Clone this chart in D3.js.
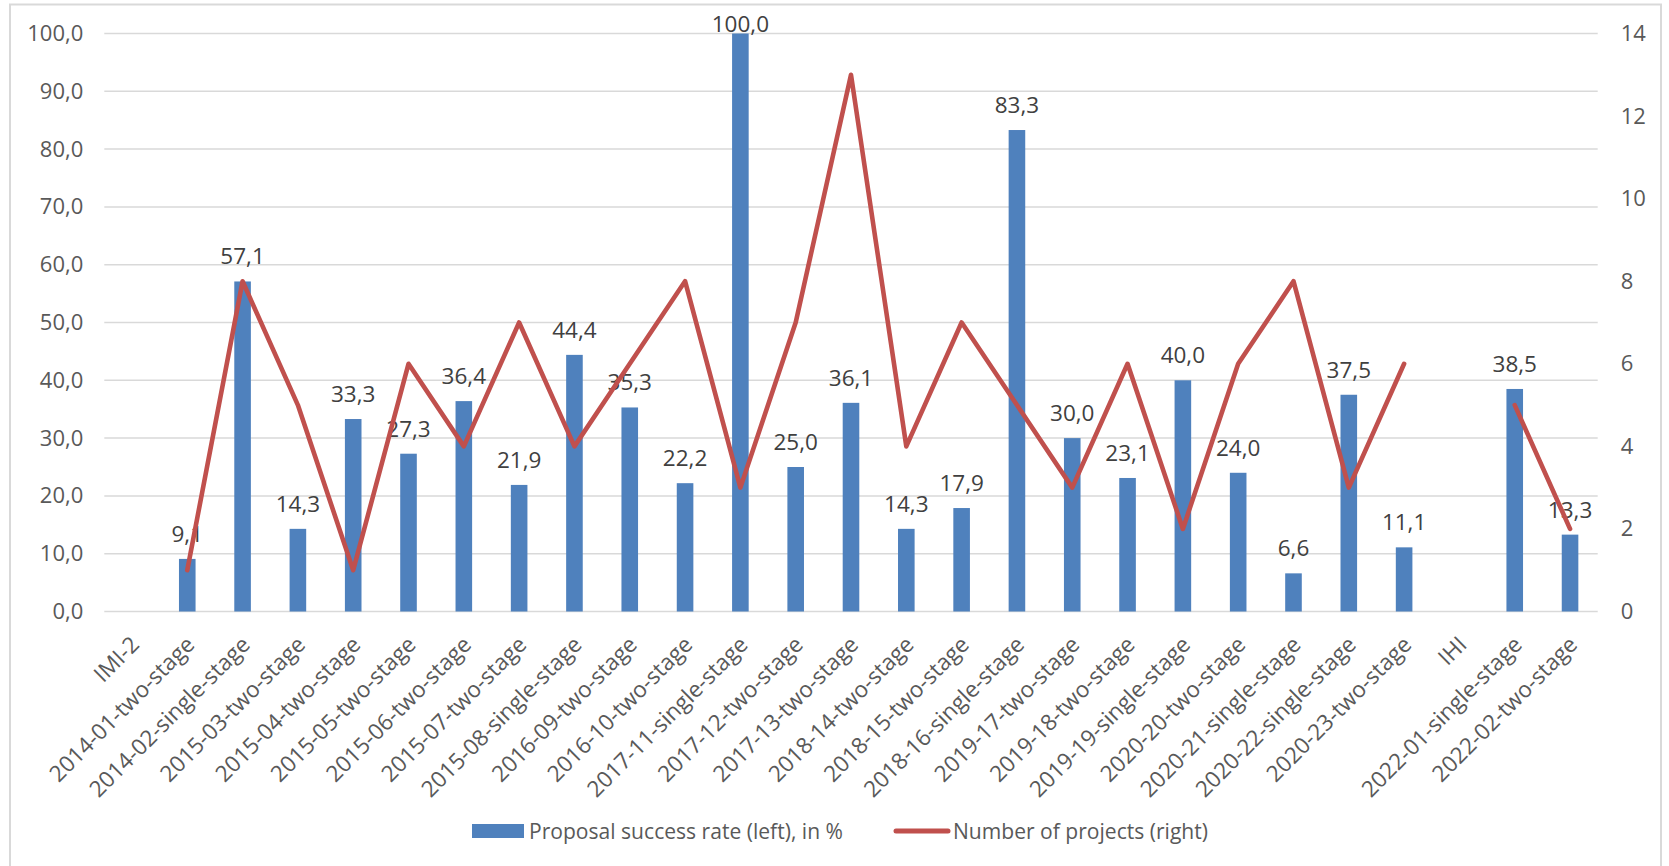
<!DOCTYPE html>
<html>
<head>
<meta charset="utf-8">
<script src="https://cdn.jsdelivr.net/npm/d3@7"></script>
<style>
  html, body { margin: 0; padding: 0; background: #ffffff; }
  svg { display: block; font-family: "Open Sans", "Noto Sans", sans-serif; }
</style>
</head>
<body>
<svg id="chart" width="1669" height="866"></svg>
<script>
// Calls, in order (null = programme header, no bar / no point)
const categories = [
  "IMI-2", "2014-01-two-stage", "2014-02-single-stage", "2015-03-two-stage",
  "2015-04-two-stage", "2015-05-two-stage", "2015-06-two-stage", "2015-07-two-stage",
  "2015-08-single-stage", "2016-09-two-stage", "2016-10-two-stage", "2017-11-single-stage",
  "2017-12-two-stage", "2017-13-two-stage", "2018-14-two-stage", "2018-15-two-stage",
  "2018-16-single-stage", "2019-17-two-stage", "2019-18-two-stage", "2019-19-single-stage",
  "2020-20-two-stage", "2020-21-single-stage", "2020-22-single-stage", "2020-23-two-stage",
  "IHI", "2022-01-single-stage", "2022-02-two-stage"
];

// Proposal success rate, in %
const successRate = [
  null, 9.1, 57.1, 14.3, 33.3, 27.3, 36.4, 21.9, 44.4, 35.3, 22.2, 100.0, 25.0, 36.1,
  14.3, 17.9, 83.3, 30.0, 23.1, 40.0, 24.0, 6.6, 37.5, 11.1, null, 38.5, 13.3
];

// Number of projects funded
const projectCount = [
  null, 1, 8, 5, 1, 6, 4, 7, 4, 6, 8, 3, 7, 13, 4, 7, 5, 3, 6, 2, 6, 8, 3, 6, null, 5, 2
];

const leftTicks = [0, 10, 20, 30, 40, 50, 60, 70, 80, 90, 100];
const rightTicks = [0, 2, 4, 6, 8, 10, 12, 14];

const seriesNames = ["Proposal success rate (left), in %", "Number of projects (right)"];

const BAR_COLOR = "#4F81BD";
const LINE_COLOR = "#C0504D";
const GRID_COLOR = "#d9d9d9";
const AXIS_TEXT = "#595959";
const LABEL_TEXT = "#404040";

const svg = d3.select("#chart");

// Chart frame
svg.append("rect")
  .attr("x", 10).attr("y", 4.5)
  .attr("width", 1651).attr("height", 880)
  .attr("fill", "#ffffff")
  .attr("stroke", GRID_COLOR)
  .attr("stroke-width", 2);

const plot = { left: 104.3, right: 1597.7, top: 33.5, bottom: 611.5 };

const x = d3.scaleBand()
  .domain(categories)
  .range([plot.left, plot.right])
  .paddingInner(0.7)
  .paddingOuter(0.35);

const yLeft = d3.scaleLinear().domain([0, 100]).range([plot.bottom, plot.top]);
const yRight = d3.scaleLinear().domain([0, 14]).range([plot.bottom, plot.top]);

const fmt = d => d.toFixed(1).replace(".", ",");

// Horizontal gridlines
svg.append("g")
  .selectAll("line")
  .data(leftTicks)
  .join("line")
  .attr("x1", plot.left).attr("x2", plot.right)
  .attr("y1", d => yLeft(d)).attr("y2", d => yLeft(d))
  .attr("stroke", GRID_COLOR)
  .attr("stroke-width", 1.5);

// Left axis
const leftAxis = svg.append("g")
  .attr("transform", `translate(${plot.left},0)`)
  .call(d3.axisLeft(yLeft).tickValues(leftTicks).tickFormat(fmt).tickSize(0).tickPadding(21));
leftAxis.select(".domain").remove();
leftAxis.selectAll("text")
  .attr("fill", AXIS_TEXT)
  .style("font-size", "22px")
  .style("font-family", "'Open Sans', sans-serif");

// Right axis
const rightAxis = svg.append("g")
  .attr("transform", `translate(${plot.right},0)`)
  .call(d3.axisRight(yRight).tickValues(rightTicks).tickFormat(d3.format("d")).tickSize(0).tickPadding(23));
rightAxis.select(".domain").remove();
rightAxis.selectAll("text")
  .attr("fill", AXIS_TEXT)
  .style("font-size", "22px")
  .style("font-family", "'Open Sans', sans-serif");

// Category labels, rotated 45 degrees
const xAxis = svg.append("g")
  .attr("transform", `translate(0,${plot.bottom})`)
  .call(d3.axisBottom(x).tickSize(0).tickPadding(0));
xAxis.select(".domain").remove();
xAxis.selectAll(".tick text")
  .attr("fill", AXIS_TEXT)
  .style("font-size", "22.5px")
  .style("font-family", "'Open Sans', sans-serif")
  .attr("text-anchor", "end")
  .attr("x", 0).attr("y", 0).attr("dy", "0.72em")
  .attr("transform", `translate(${x.bandwidth() / 2 - 11},23) rotate(-45)`);

// Bars
const barData = categories.map((c, i) => ({ c, v: successRate[i] })).filter(d => d.v !== null);

svg.append("g")
  .selectAll("rect")
  .data(barData)
  .join("rect")
  .attr("x", d => x(d.c))
  .attr("width", x.bandwidth())
  .attr("y", d => yLeft(d.v))
  .attr("height", d => yLeft(0) - yLeft(d.v))
  .attr("fill", BAR_COLOR);

// Bar value labels
svg.append("g")
  .selectAll("text")
  .data(barData)
  .join("text")
  .attr("x", d => x(d.c) + x.bandwidth() / 2)
  .attr("y", d => Math.max(yLeft(d.v) - 17, 32))
  .attr("text-anchor", "middle")
  .attr("fill", LABEL_TEXT)
  .style("font-size", "22.5px")
  .text(d => fmt(d.v));

// Project count line (broken where no call exists)
const lineData = categories.map((c, i) => ({ c, v: projectCount[i] }));
const line = d3.line()
  .defined(d => d.v !== null)
  .x(d => x(d.c) + x.bandwidth() / 2)
  .y(d => yRight(d.v));

svg.append("path")
  .datum(lineData.slice(1))
  .attr("d", line)
  .attr("fill", "none")
  .attr("stroke", LINE_COLOR)
  .attr("stroke-width", 4.6)
  .attr("stroke-linejoin", "round")
  .attr("stroke-linecap", "round");

// Legend
const legend = svg.append("g");
legend.append("rect")
  .attr("x", 472).attr("y", 824)
  .attr("width", 52).attr("height", 14)
  .attr("fill", BAR_COLOR);
legend.append("text")
  .attr("x", 529).attr("y", 838.5)
  .attr("fill", AXIS_TEXT)
  .style("font-size", "21px")
  .attr("textLength", 314)
  .attr("lengthAdjust", "spacingAndGlyphs")
  .text(seriesNames[0]);
legend.append("line")
  .attr("x1", 896).attr("x2", 948)
  .attr("y1", 831).attr("y2", 831)
  .attr("stroke", LINE_COLOR)
  .attr("stroke-width", 5)
  .attr("stroke-linecap", "round");
legend.append("text")
  .attr("x", 953).attr("y", 838.5)
  .attr("fill", AXIS_TEXT)
  .style("font-size", "21px")
  .attr("textLength", 255)
  .attr("lengthAdjust", "spacingAndGlyphs")
  .text(seriesNames[1]);
</script>
</body>
</html>
